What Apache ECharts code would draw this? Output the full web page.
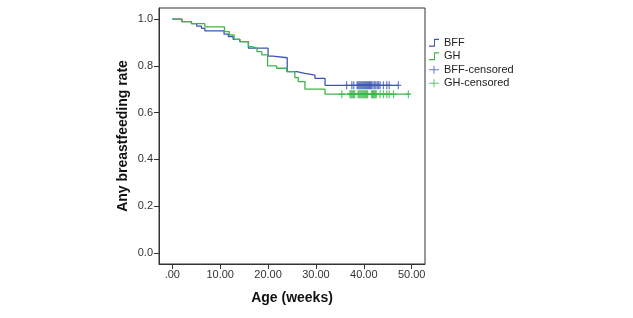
<!DOCTYPE html>
<html>
<head>
<meta charset="utf-8">
<script src="https://cdn.jsdelivr.net/npm/echarts@6/dist/echarts.min.js"></script>
<style>
  html, body { margin: 0; padding: 0; background: #fff; }
  #main { width: 633px; height: 318px; }
</style>
</head>
<body>
<div id="main"></div>
<script>
// Kaplan-Meier steps: [week, survival]
var bffSteps = [[0, 1.0], [2.0, 0.99], [4.0, 0.981], [5.1, 0.970], [6.1, 0.961], [6.8, 0.95],
  [10.8, 0.936], [11.7, 0.926], [12.7, 0.914], [14.1, 0.904], [15.9, 0.876], [20.0, 0.842],
  [21.0, 0.835], [24.0, 0.776], [26.0, 0.768], [27.7, 0.761], [29.8, 0.747], [31.9, 0.717], [47.2, 0.717]];
var ghSteps = [[0, 1.0], [2.0, 0.99], [4.0, 0.981], [6.8, 0.967], [10.9, 0.947], [11.9, 0.933],
  [12.9, 0.914], [14.1, 0.904], [15.9, 0.883], [16.6, 0.876], [17.7, 0.861], [18.7, 0.847],
  [19.9, 0.80], [21.8, 0.79], [23.9, 0.776], [25.6, 0.75], [26.3, 0.733], [27.7, 0.701],
  [31.9, 0.679], [49.6, 0.679]];
// censored times (weeks)
var bffCensored = [36.4, 37.5, 37.9, 38.6, 38.8, 39.0, 39.2, 39.4, 39.6, 39.8, 40.0, 40.2, 40.4,
  40.6, 40.8, 41.0, 41.2, 41.4, 41.6, 41.9, 42.2, 42.5, 42.8, 43.1, 43.4, 44.1, 44.8, 45.3, 47.2];
var bffCensoredRate = 0.717;
var ghCensored = [35.4, 37.1, 37.3, 37.5, 37.7, 37.9, 38.1, 38.8, 39.0, 39.2, 39.4, 39.6, 39.8,
  40.0, 40.2, 40.4, 40.6, 40.8, 41.6, 41.8, 42.0, 42.2, 42.4, 42.6, 43.4, 44.1, 44.8, 45.3, 46.2, 49.3];
var ghCensoredRate = 0.679;
var xTicks = [0, 10, 20, 30, 40, 50];
var yTicks = [0, 0.2, 0.4, 0.6, 0.8, 1.0];

var blue = '#3f56b0';
var green = '#3cb54b';
var font = 'Arial, "Liberation Sans", sans-serif';
var plusPath = 'path://M0,3.4 L6,3.4 L6,4.6 L0,4.6 Z M2.4,0 L3.6,0 L3.6,8 L2.4,8 Z';
var stepIcon = 'path://M0,6 L5,6 L5,0 L10,0 L10,1 L6,1 L6,7 L0,7 Z';
var plusIcon = 'path://M0,3.5 L10,3.5 L10,4.5 L0,4.5 Z M4.5,0 L5.5,0 L5.5,8 L4.5,8 Z';

var chart = echarts.init(document.getElementById('main'), null, { renderer: 'canvas' });

var option = {
  animation: false,
  backgroundColor: '#fff',
  grid: {
    left: 159, top: 8, width: 266, height: 256,
    show: true, borderColor: '#333', borderWidth: 1
  },
  legend: {
    orient: 'vertical',
    left: 424, top: 31,
    itemWidth: 10, itemHeight: 8, itemGap: 0,
    symbolKeepAspect: false,
    itemStyle: { borderWidth: 0 },
    textStyle: { fontFamily: font, fontSize: 11, color: '#222', lineHeight: 13.5 },
    data: [
      { name: 'BFF', icon: stepIcon },
      { name: 'GH', icon: stepIcon },
      { name: 'BFF-censored', icon: plusIcon },
      { name: 'GH-censored', icon: plusIcon }
    ]
  },
  xAxis: {
    type: 'value',
    min: -2.78, max: 52.78,
    name: 'Age (weeks)',
    nameLocation: 'middle',
    nameGap: 27,
    nameTextStyle: { fontFamily: font, fontSize: 14, fontWeight: 'bold', color: '#111' },
    axisLine: { show: true, onZero: false, lineStyle: { color: '#333', width: 1 } },
    axisTick: { show: true, inside: false, length: 5, customValues: xTicks, lineStyle: { color: '#333' } },
    axisLabel: {
      customValues: xTicks, margin: 5,
      fontFamily: font, fontSize: 11, color: '#333',
      formatter: function (v) { return v === 0 ? '.00' : v.toFixed(2); }
    },
    splitLine: { show: false }
  },
  yAxis: {
    type: 'value',
    min: -0.048, max: 1.048,
    name: 'Any breastfeeding rate',
    nameLocation: 'middle',
    nameGap: 29,
    nameTextStyle: { fontFamily: font, fontSize: 14, fontWeight: 'bold', color: '#111' },
    axisLine: { show: true, onZero: false, lineStyle: { color: '#333', width: 1 } },
    axisTick: { show: true, inside: false, length: 5, customValues: yTicks, lineStyle: { color: '#333' } },
    axisLabel: {
      customValues: yTicks, margin: 6,
      fontFamily: font, fontSize: 11, color: '#333',
      formatter: function (v) { return v.toFixed(1); }
    },
    splitLine: { show: false }
  },
  series: [
    {
      name: 'BFF', type: 'line', step: 'end', showSymbol: false,
      color: blue, lineStyle: { color: blue, width: 1.3 },
      data: bffSteps
    },
    {
      name: 'GH', type: 'line', step: 'end', showSymbol: false,
      color: green, lineStyle: { color: green, width: 1.3 },
      data: ghSteps
    },
    {
      name: 'BFF-censored', type: 'scatter',
      symbol: plusPath, symbolSize: [6, 8], symbolKeepAspect: false,
      color: blue, itemStyle: { color: blue },
      data: bffCensored.map(function (t) { return [t, bffCensoredRate]; })
    },
    {
      name: 'GH-censored', type: 'scatter',
      symbol: plusPath, symbolSize: [6, 8], symbolKeepAspect: false,
      color: green, itemStyle: { color: green },
      data: ghCensored.map(function (t) { return [t, ghCensoredRate]; })
    }
  ]
};

chart.setOption(option);
</script>
</body>
</html>
